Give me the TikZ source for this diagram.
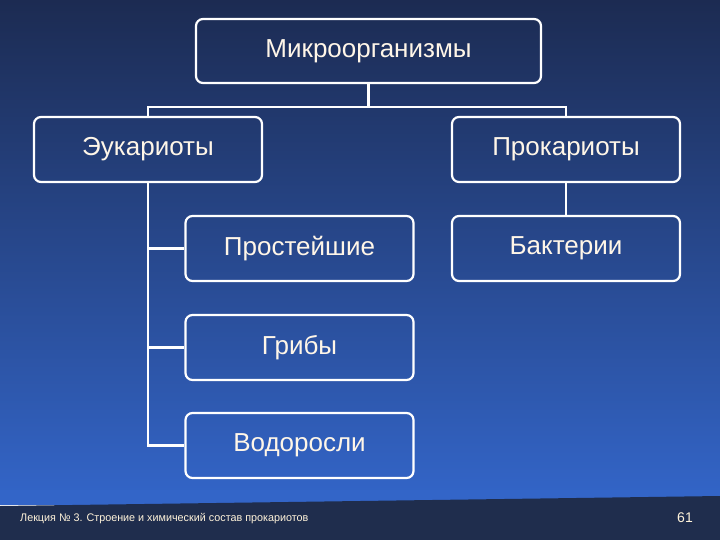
\documentclass[tikz,border=0pt]{standalone}
\usepackage{fontspec}
\setmainfont{Liberation Sans}
\begin{document}
\begin{tikzpicture}[x=1pt,y=-1pt,
  box/.style={draw=white,line width=2.2pt,rounded corners=7pt,minimum width=#1,minimum height=65pt,text=txt,font=\fontsize{26}{30}\selectfont,inner sep=0pt},
  box/.default=228pt,
  con/.style={draw=white,line width=2.6pt}]
\definecolor{topc}{HTML}{1C2B52}
\definecolor{botc}{HTML}{3365C8}
\definecolor{foot}{HTML}{1F2D4D}
\definecolor{cream}{HTML}{FFF3DA}
\definecolor{txt}{HTML}{FFF6E8}
\useasboundingbox (0,0) rectangle (720,540);
\shade[top color=topc,bottom color=botc] (0,0) rectangle (720,500);
\fill[botc] (0,490) rectangle (720,505);
\fill[foot] (0,506) -- (720,496) -- (720,540) -- (0,540) -- cycle;
\node[box=345pt,minimum height=64pt] (m) at (368.5,51) {Микроорганизмы};
\node[box] (e) at (148,149.5) {Эукариоты};
\node[box] (p) at (566,149.5) {Прокариоты};
\node[box] (s) at (299.5,248.5) {Простейшие};
\node[box] (b) at (566,248.5) {Бактерии};
\node[box] (g) at (299.5,347.5) {Грибы};
\node[box] (v) at (299.5,445.5) {Водоросли};
\coordinate (j) at (368.5,107);
\draw[con] (m.south) -- (j);
\draw[con] (e.north) |- (j) -| (p.north);
\draw[con] (p.south) -- (b.north);
\draw[con] (e.south) |- (s.west);
\draw[con] (e.south) |- (g.west);
\draw[con] (e.south) |- (v.west);
\node[text=cream,font=\fontsize{11}{13}\selectfont,anchor=west,inner sep=0pt,xscale=0.98] (f) at (20,519) {Лекция № 3. Строение и химический состав прокариотов};
\node[text=cream,font=\fontsize{14}{16}\selectfont] (n) at (685,518) {61};
\end{tikzpicture}
\end{document}
